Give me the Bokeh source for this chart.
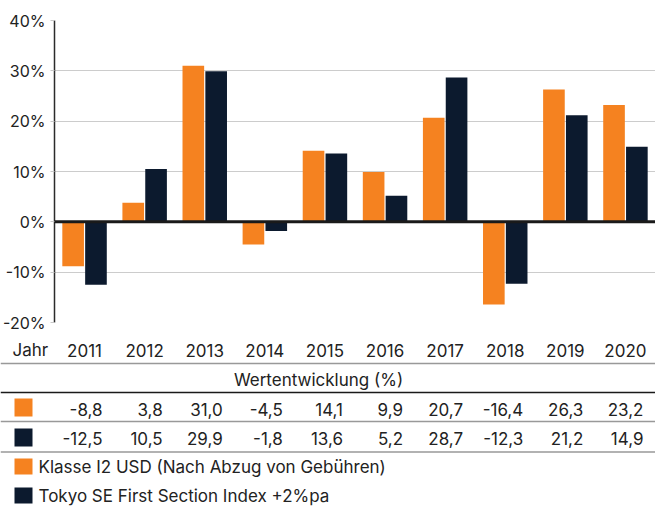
from bokeh.plotting import figure
from bokeh.layouts import column
from bokeh.models import ColumnDataSource, Range1d, FixedTicker, PrintfTickFormatter, Span
from bokeh.transform import dodge
from bokeh.core.properties import value
from bokeh.embed import file_html
from bokeh.resources import INLINE

# ---- data ----
years = ["2011", "2012", "2013", "2014", "2015", "2016", "2017", "2018", "2019", "2020"]
fund = [-8.8, 3.8, 31.0, -4.5, 14.1, 9.9, 20.7, -16.4, 26.3, 23.2]
bench = [-12.5, 10.5, 29.9, -1.8, 13.6, 5.2, 28.7, -12.3, 21.2, 14.9]
y_ticks = [-20, -10, 0, 10, 20, 30, 40]
fund_name = "Klasse I2 USD (Nach Abzug von Gebühren)"
bench_name = "Tokyo SE First Section Index +2%pa"
row_header = "Jahr"
table_title = "Wertentwicklung (%)"

ORANGE = "#F58220"
NAVY = "#0C1A2E"
TXT = "#222222"
FONT = "Inter"
FS = "17px"
AXIS_FS = "16px"

W = 655
FRAME_L = 54
H1 = 336

# ---- chart ----
src = ColumnDataSource(dict(year=years, fund=fund, bench=bench))
p = figure(x_range=years, y_range=Range1d(-20, 40), width=W, height=H1,
           output_backend="svg", toolbar_location=None,
           min_border_left=FRAME_L, min_border_right=0,
           min_border_top=20, min_border_bottom=14)
p.frame_align = False
p.outline_line_color = None
p.xaxis.visible = False
p.x_range.range_padding = 0
p.xgrid.grid_line_color = None
p.ygrid.grid_line_color = "#cccccc"
p.ygrid.grid_line_width = 1

ax = p.yaxis[0]
ax.ticker = FixedTicker(ticks=y_ticks)
ax.formatter = PrintfTickFormatter(format="%d%%")
ax.axis_line_color = "#2b2b2b"
ax.axis_line_width = 1.5
ax.major_tick_out = 4
ax.major_tick_in = 0
ax.major_tick_line_color = "#c8c8c8"
ax.minor_tick_line_color = None
ax.major_label_standoff = 5
ax.major_label_text_font = FONT
ax.major_label_text_font_size = AXIS_FS
ax.major_label_text_color = TXT

p.vbar(x=dodge("year", -0.19, range=p.x_range), top="fund", width=0.36,
       source=src, fill_color=ORANGE, line_color=None)
p.vbar(x=dodge("year", 0.19, range=p.x_range), top="bench", width=0.36,
       source=src, fill_color=NAVY, line_color=None)
p.add_layout(Span(location=0, dimension="width", line_color="#1a1a1a", line_width=3))

# ---- table ----
H2 = 506 - H1
t = figure(x_range=Range1d(0, W), y_range=Range1d(506, H1), width=W, height=H2,
           output_backend="svg", toolbar_location=None,
           min_border=0, min_border_left=0, min_border_right=0,
           min_border_top=0, min_border_bottom=0)
t.frame_align = False
t.axis.visible = False
t.grid.visible = False
t.outline_line_color = None

cat_w = (W - FRAME_L) / len(years)
centers = [FRAME_L + cat_w * (i + 0.5) for i in range(len(years))]
right_edges = [c + 18 for c in centers]

def fmt(v):
    return f"{v:.1f}".replace(".", ",")

tk = dict(text_font=value(FONT), text_font_size=FS, text_color=TXT, text_baseline="middle")

# header row
t.text(x=[12], y=[349.5], text=[row_header], text_align="left", **tk)
t.text(x=centers, y=[349.5] * len(years), text=years, text_align="center", **tk)
t.text(x=[318], y=[379], text=[table_title], text_align="center", **tk)

# value rows
t.text(x=right_edges, y=[409] * len(years), text=[fmt(v) for v in fund], text_align="right", **tk)
t.text(x=right_edges, y=[437.5] * len(years), text=[fmt(v) for v in bench], text_align="right", **tk)

# separators
t.segment(x0=[0, 0, 0], x1=[W, W, W], y0=[363, 421, 451.5], y1=[363, 421, 451.5],
          line_color="#999999", line_width=1.5)
t.segment(x0=[0], x1=[W], y0=[392], y1=[392], line_color="#1a1a1a", line_width=1.5)

# swatches
t.quad(left=[14, 14, 14, 14], right=[32, 32, 32, 32],
       top=[398, 428, 458, 487], bottom=[416, 446, 474, 503],
       fill_color=[ORANGE, NAVY, ORANGE, NAVY], line_color=None)

# legend texts
t.text(x=[38, 38], y=[466.5, 495], text=[fund_name, bench_name], text_align="left", **tk)

layout = column(p, t, spacing=0)
open("out.html", "w").write(file_html(layout, INLINE))
